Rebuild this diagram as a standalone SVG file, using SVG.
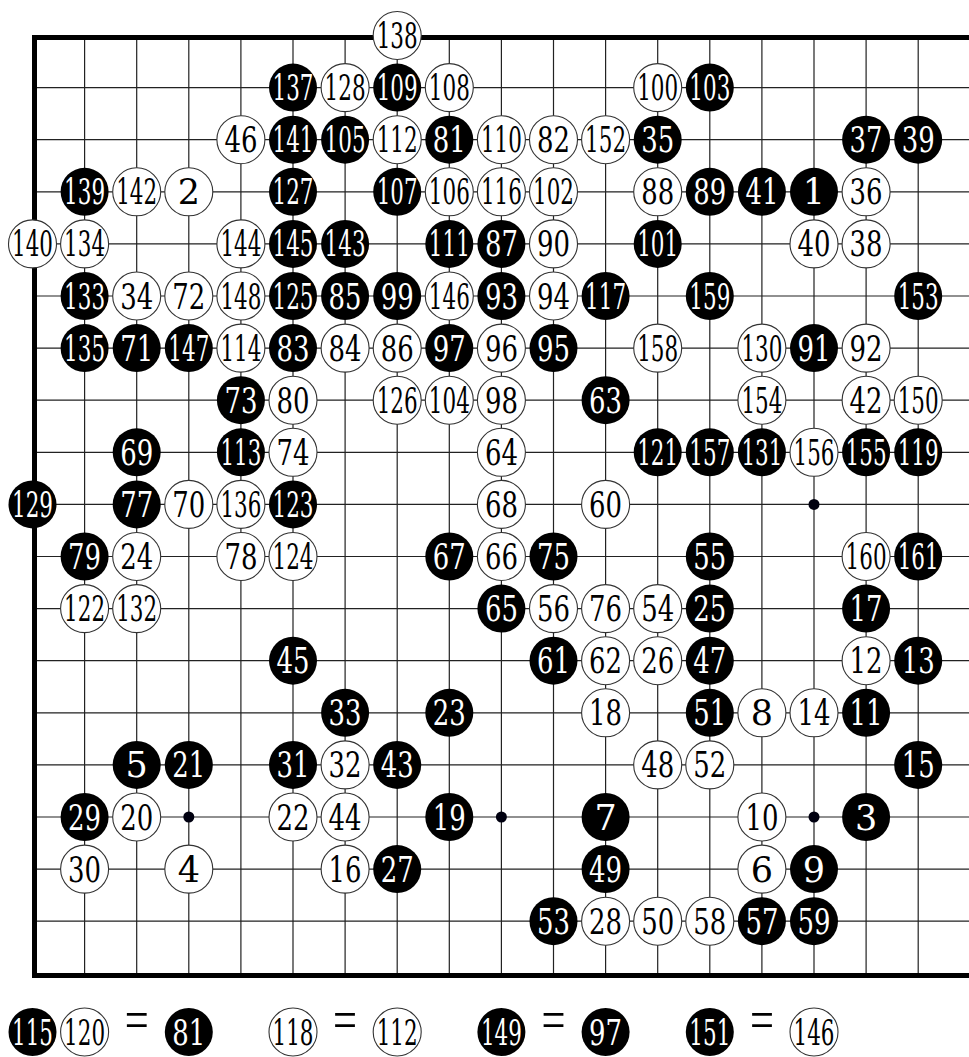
<svg xmlns="http://www.w3.org/2000/svg" width="969" height="1057" viewBox="0 0 969 1057">
<style>
.grid{fill:none;stroke:#222;stroke-width:1.2}
.edge{fill:none;stroke:#000;stroke-width:5;stroke-linejoin:miter}
.star{fill:#000010}
.b circle{fill:#000}
.w circle{fill:#fff;stroke:#333;stroke-width:1.1}
text{font-family:"DejaVu Serif","Liberation Serif",serif;font-size:35px;text-anchor:middle}
.b text{fill:#fff}
.w text{fill:#000}
text.eq{fill:#000;font-family:"Liberation Serif",serif;font-size:56px}
</style>
<rect width="969" height="1057" fill="#fff"/>
<g id="board">
<path class="grid" d="M84.6 37.5V975M136.7 37.5V975M188.8 37.5V975M240.9 37.5V975M293 37.5V975M345.1 37.5V975M397.2 37.5V975M449.3 37.5V975M501.4 37.5V975M553.5 37.5V975M605.6 37.5V975M657.7 37.5V975M709.8 37.5V975M761.9 37.5V975M814 37.5V975M866.1 37.5V975M918.2 37.5V975M34.5 87.6H969M34.5 139.7H969M34.5 191.8H969M34.5 243.9H969M34.5 296H969M34.5 348.1H969M34.5 400.2H969M34.5 452.3H969M34.5 504.4H969M34.5 556.5H969M34.5 608.6H969M34.5 660.7H969M34.5 712.8H969M34.5 764.9H969M34.5 817H969M34.5 869.1H969M34.5 921.2H969"/>
<path class="edge" d="M969 37.5H34.5V975.5H969"/>
<g class="star"><circle cx="188.8" cy="817" r="5.5"/><circle cx="501.4" cy="817" r="5.5"/><circle cx="814" cy="817" r="5.5"/><circle cx="814" cy="504.4" r="5.5"/></g>
</g>
<g id="connectors"></g>
<g id="stones">
<g id="m138" class="w"><circle cx="397.2" cy="35.5" r="24"/><text x="397.2" y="48" textLength="41" lengthAdjust="spacingAndGlyphs">138</text></g>
<g id="m137" class="b"><circle cx="293" cy="87.6" r="24"/><text x="293" y="100.1" textLength="41" lengthAdjust="spacingAndGlyphs">137</text></g>
<g id="m128" class="w"><circle cx="345.1" cy="87.6" r="24"/><text x="345.1" y="100.1" textLength="41" lengthAdjust="spacingAndGlyphs">128</text></g>
<g id="m109" class="b"><circle cx="397.2" cy="87.6" r="24"/><text x="397.2" y="100.1" textLength="41" lengthAdjust="spacingAndGlyphs">109</text></g>
<g id="m108" class="w"><circle cx="449.3" cy="87.6" r="24"/><text x="449.3" y="100.1" textLength="41" lengthAdjust="spacingAndGlyphs">108</text></g>
<g id="m100" class="w"><circle cx="657.7" cy="87.6" r="24"/><text x="657.7" y="100.1" textLength="41" lengthAdjust="spacingAndGlyphs">100</text></g>
<g id="m103" class="b"><circle cx="709.8" cy="87.6" r="24"/><text x="709.8" y="100.1" textLength="41" lengthAdjust="spacingAndGlyphs">103</text></g>

<g id="m46" class="w"><circle cx="240.9" cy="139.7" r="24"/><text x="240.9" y="152.2" textLength="33" lengthAdjust="spacingAndGlyphs">46</text></g>
<g id="m141" class="b"><circle cx="293" cy="139.7" r="24"/><text x="293" y="152.2" textLength="41" lengthAdjust="spacingAndGlyphs">141</text></g>
<g id="m105" class="b"><circle cx="345.1" cy="139.7" r="24"/><text x="345.1" y="152.2" textLength="41" lengthAdjust="spacingAndGlyphs">105</text></g>
<g id="m112" class="w"><circle cx="397.2" cy="139.7" r="24"/><text x="397.2" y="152.2" textLength="41" lengthAdjust="spacingAndGlyphs">112</text></g>
<g id="m81" class="b"><circle cx="449.3" cy="139.7" r="24"/><text x="449.3" y="152.2" textLength="33" lengthAdjust="spacingAndGlyphs">81</text></g>
<g id="m110" class="w"><circle cx="501.4" cy="139.7" r="24"/><text x="501.4" y="152.2" textLength="41" lengthAdjust="spacingAndGlyphs">110</text></g>
<g id="m82" class="w"><circle cx="553.5" cy="139.7" r="24"/><text x="553.5" y="152.2" textLength="33" lengthAdjust="spacingAndGlyphs">82</text></g>
<g id="m152" class="w"><circle cx="605.6" cy="139.7" r="24"/><text x="605.6" y="152.2" textLength="41" lengthAdjust="spacingAndGlyphs">152</text></g>
<g id="m35" class="b"><circle cx="657.7" cy="139.7" r="24"/><text x="657.7" y="152.2" textLength="33" lengthAdjust="spacingAndGlyphs">35</text></g>
<g id="m37" class="b"><circle cx="866.1" cy="139.7" r="24"/><text x="866.1" y="152.2" textLength="33" lengthAdjust="spacingAndGlyphs">37</text></g>
<g id="m39" class="b"><circle cx="918.2" cy="139.7" r="24"/><text x="918.2" y="152.2" textLength="33" lengthAdjust="spacingAndGlyphs">39</text></g>

<g id="m139" class="b"><circle cx="84.6" cy="191.8" r="24"/><text x="84.6" y="204.3" textLength="41" lengthAdjust="spacingAndGlyphs">139</text></g>
<g id="m142" class="w"><circle cx="136.7" cy="191.8" r="24"/><text x="136.7" y="204.3" textLength="41" lengthAdjust="spacingAndGlyphs">142</text></g>
<g id="m2" class="w"><circle cx="188.8" cy="191.8" r="24"/><text x="188.8" y="204.3">2</text></g>
<g id="m127" class="b"><circle cx="293" cy="191.8" r="24"/><text x="293" y="204.3" textLength="41" lengthAdjust="spacingAndGlyphs">127</text></g>
<g id="m107" class="b"><circle cx="397.2" cy="191.8" r="24"/><text x="397.2" y="204.3" textLength="41" lengthAdjust="spacingAndGlyphs">107</text></g>
<g id="m106" class="w"><circle cx="449.3" cy="191.8" r="24"/><text x="449.3" y="204.3" textLength="41" lengthAdjust="spacingAndGlyphs">106</text></g>
<g id="m116" class="w"><circle cx="501.4" cy="191.8" r="24"/><text x="501.4" y="204.3" textLength="41" lengthAdjust="spacingAndGlyphs">116</text></g>
<g id="m102" class="w"><circle cx="553.5" cy="191.8" r="24"/><text x="553.5" y="204.3" textLength="41" lengthAdjust="spacingAndGlyphs">102</text></g>
<g id="m88" class="w"><circle cx="657.7" cy="191.8" r="24"/><text x="657.7" y="204.3" textLength="33" lengthAdjust="spacingAndGlyphs">88</text></g>
<g id="m89" class="b"><circle cx="709.8" cy="191.8" r="24"/><text x="709.8" y="204.3" textLength="33" lengthAdjust="spacingAndGlyphs">89</text></g>
<g id="m41" class="b"><circle cx="761.9" cy="191.8" r="24"/><text x="761.9" y="204.3" textLength="33" lengthAdjust="spacingAndGlyphs">41</text></g>
<g id="m1" class="b"><circle cx="814" cy="191.8" r="24"/><text x="814" y="204.3">1</text></g>
<g id="m36" class="w"><circle cx="866.1" cy="191.8" r="24"/><text x="866.1" y="204.3" textLength="33" lengthAdjust="spacingAndGlyphs">36</text></g>

<g id="m140" class="w"><circle cx="32.5" cy="243.9" r="24"/><text x="32.5" y="256.4" textLength="41" lengthAdjust="spacingAndGlyphs">140</text></g>
<g id="m134" class="w"><circle cx="84.6" cy="243.9" r="24"/><text x="84.6" y="256.4" textLength="41" lengthAdjust="spacingAndGlyphs">134</text></g>
<g id="m144" class="w"><circle cx="240.9" cy="243.9" r="24"/><text x="240.9" y="256.4" textLength="41" lengthAdjust="spacingAndGlyphs">144</text></g>
<g id="m145" class="b"><circle cx="293" cy="243.9" r="24"/><text x="293" y="256.4" textLength="41" lengthAdjust="spacingAndGlyphs">145</text></g>
<g id="m143" class="b"><circle cx="345.1" cy="243.9" r="24"/><text x="345.1" y="256.4" textLength="41" lengthAdjust="spacingAndGlyphs">143</text></g>
<g id="m111" class="b"><circle cx="449.3" cy="243.9" r="24"/><text x="449.3" y="256.4" textLength="41" lengthAdjust="spacingAndGlyphs">111</text></g>
<g id="m87" class="b"><circle cx="501.4" cy="243.9" r="24"/><text x="501.4" y="256.4" textLength="33" lengthAdjust="spacingAndGlyphs">87</text></g>
<g id="m90" class="w"><circle cx="553.5" cy="243.9" r="24"/><text x="553.5" y="256.4" textLength="33" lengthAdjust="spacingAndGlyphs">90</text></g>
<g id="m101" class="b"><circle cx="657.7" cy="243.9" r="24"/><text x="657.7" y="256.4" textLength="41" lengthAdjust="spacingAndGlyphs">101</text></g>
<g id="m40" class="w"><circle cx="814" cy="243.9" r="24"/><text x="814" y="256.4" textLength="33" lengthAdjust="spacingAndGlyphs">40</text></g>
<g id="m38" class="w"><circle cx="866.1" cy="243.9" r="24"/><text x="866.1" y="256.4" textLength="33" lengthAdjust="spacingAndGlyphs">38</text></g>

<g id="m133" class="b"><circle cx="84.6" cy="296" r="24"/><text x="84.6" y="308.5" textLength="41" lengthAdjust="spacingAndGlyphs">133</text></g>
<g id="m34" class="w"><circle cx="136.7" cy="296" r="24"/><text x="136.7" y="308.5" textLength="33" lengthAdjust="spacingAndGlyphs">34</text></g>
<g id="m72" class="w"><circle cx="188.8" cy="296" r="24"/><text x="188.8" y="308.5" textLength="33" lengthAdjust="spacingAndGlyphs">72</text></g>
<g id="m148" class="w"><circle cx="240.9" cy="296" r="24"/><text x="240.9" y="308.5" textLength="41" lengthAdjust="spacingAndGlyphs">148</text></g>
<g id="m125" class="b"><circle cx="293" cy="296" r="24"/><text x="293" y="308.5" textLength="41" lengthAdjust="spacingAndGlyphs">125</text></g>
<g id="m85" class="b"><circle cx="345.1" cy="296" r="24"/><text x="345.1" y="308.5" textLength="33" lengthAdjust="spacingAndGlyphs">85</text></g>
<g id="m99" class="b"><circle cx="397.2" cy="296" r="24"/><text x="397.2" y="308.5" textLength="33" lengthAdjust="spacingAndGlyphs">99</text></g>
<g id="m146" class="w"><circle cx="449.3" cy="296" r="24"/><text x="449.3" y="308.5" textLength="41" lengthAdjust="spacingAndGlyphs">146</text></g>
<g id="m93" class="b"><circle cx="501.4" cy="296" r="24"/><text x="501.4" y="308.5" textLength="33" lengthAdjust="spacingAndGlyphs">93</text></g>
<g id="m94" class="w"><circle cx="553.5" cy="296" r="24"/><text x="553.5" y="308.5" textLength="33" lengthAdjust="spacingAndGlyphs">94</text></g>
<g id="m117" class="b"><circle cx="605.6" cy="296" r="24"/><text x="605.6" y="308.5" textLength="41" lengthAdjust="spacingAndGlyphs">117</text></g>
<g id="m159" class="b"><circle cx="709.8" cy="296" r="24"/><text x="709.8" y="308.5" textLength="41" lengthAdjust="spacingAndGlyphs">159</text></g>
<g id="m153" class="b"><circle cx="918.2" cy="296" r="24"/><text x="918.2" y="308.5" textLength="41" lengthAdjust="spacingAndGlyphs">153</text></g>

<g id="m135" class="b"><circle cx="84.6" cy="348.1" r="24"/><text x="84.6" y="360.6" textLength="41" lengthAdjust="spacingAndGlyphs">135</text></g>
<g id="m71" class="b"><circle cx="136.7" cy="348.1" r="24"/><text x="136.7" y="360.6" textLength="33" lengthAdjust="spacingAndGlyphs">71</text></g>
<g id="m147" class="b"><circle cx="188.8" cy="348.1" r="24"/><text x="188.8" y="360.6" textLength="41" lengthAdjust="spacingAndGlyphs">147</text></g>
<g id="m114" class="w"><circle cx="240.9" cy="348.1" r="24"/><text x="240.9" y="360.6" textLength="41" lengthAdjust="spacingAndGlyphs">114</text></g>
<g id="m83" class="b"><circle cx="293" cy="348.1" r="24"/><text x="293" y="360.6" textLength="33" lengthAdjust="spacingAndGlyphs">83</text></g>
<g id="m84" class="w"><circle cx="345.1" cy="348.1" r="24"/><text x="345.1" y="360.6" textLength="33" lengthAdjust="spacingAndGlyphs">84</text></g>
<g id="m86" class="w"><circle cx="397.2" cy="348.1" r="24"/><text x="397.2" y="360.6" textLength="33" lengthAdjust="spacingAndGlyphs">86</text></g>
<g id="m97" class="b"><circle cx="449.3" cy="348.1" r="24"/><text x="449.3" y="360.6" textLength="33" lengthAdjust="spacingAndGlyphs">97</text></g>
<g id="m96" class="w"><circle cx="501.4" cy="348.1" r="24"/><text x="501.4" y="360.6" textLength="33" lengthAdjust="spacingAndGlyphs">96</text></g>
<g id="m95" class="b"><circle cx="553.5" cy="348.1" r="24"/><text x="553.5" y="360.6" textLength="33" lengthAdjust="spacingAndGlyphs">95</text></g>
<g id="m158" class="w"><circle cx="657.7" cy="348.1" r="24"/><text x="657.7" y="360.6" textLength="41" lengthAdjust="spacingAndGlyphs">158</text></g>
<g id="m130" class="w"><circle cx="761.9" cy="348.1" r="24"/><text x="761.9" y="360.6" textLength="41" lengthAdjust="spacingAndGlyphs">130</text></g>
<g id="m91" class="b"><circle cx="814" cy="348.1" r="24"/><text x="814" y="360.6" textLength="33" lengthAdjust="spacingAndGlyphs">91</text></g>
<g id="m92" class="w"><circle cx="866.1" cy="348.1" r="24"/><text x="866.1" y="360.6" textLength="33" lengthAdjust="spacingAndGlyphs">92</text></g>

<g id="m73" class="b"><circle cx="240.9" cy="400.2" r="24"/><text x="240.9" y="412.7" textLength="33" lengthAdjust="spacingAndGlyphs">73</text></g>
<g id="m80" class="w"><circle cx="293" cy="400.2" r="24"/><text x="293" y="412.7" textLength="33" lengthAdjust="spacingAndGlyphs">80</text></g>
<g id="m126" class="w"><circle cx="397.2" cy="400.2" r="24"/><text x="397.2" y="412.7" textLength="41" lengthAdjust="spacingAndGlyphs">126</text></g>
<g id="m104" class="w"><circle cx="449.3" cy="400.2" r="24"/><text x="449.3" y="412.7" textLength="41" lengthAdjust="spacingAndGlyphs">104</text></g>
<g id="m98" class="w"><circle cx="501.4" cy="400.2" r="24"/><text x="501.4" y="412.7" textLength="33" lengthAdjust="spacingAndGlyphs">98</text></g>
<g id="m63" class="b"><circle cx="605.6" cy="400.2" r="24"/><text x="605.6" y="412.7" textLength="33" lengthAdjust="spacingAndGlyphs">63</text></g>
<g id="m154" class="w"><circle cx="761.9" cy="400.2" r="24"/><text x="761.9" y="412.7" textLength="41" lengthAdjust="spacingAndGlyphs">154</text></g>
<g id="m42" class="w"><circle cx="866.1" cy="400.2" r="24"/><text x="866.1" y="412.7" textLength="33" lengthAdjust="spacingAndGlyphs">42</text></g>
<g id="m150" class="w"><circle cx="918.2" cy="400.2" r="24"/><text x="918.2" y="412.7" textLength="41" lengthAdjust="spacingAndGlyphs">150</text></g>

<g id="m69" class="b"><circle cx="136.7" cy="452.3" r="24"/><text x="136.7" y="464.8" textLength="33" lengthAdjust="spacingAndGlyphs">69</text></g>
<g id="m113" class="b"><circle cx="240.9" cy="452.3" r="24"/><text x="240.9" y="464.8" textLength="41" lengthAdjust="spacingAndGlyphs">113</text></g>
<g id="m74" class="w"><circle cx="293" cy="452.3" r="24"/><text x="293" y="464.8" textLength="33" lengthAdjust="spacingAndGlyphs">74</text></g>
<g id="m64" class="w"><circle cx="501.4" cy="452.3" r="24"/><text x="501.4" y="464.8" textLength="33" lengthAdjust="spacingAndGlyphs">64</text></g>
<g id="m121" class="b"><circle cx="657.7" cy="452.3" r="24"/><text x="657.7" y="464.8" textLength="41" lengthAdjust="spacingAndGlyphs">121</text></g>
<g id="m157" class="b"><circle cx="709.8" cy="452.3" r="24"/><text x="709.8" y="464.8" textLength="41" lengthAdjust="spacingAndGlyphs">157</text></g>
<g id="m131" class="b"><circle cx="761.9" cy="452.3" r="24"/><text x="761.9" y="464.8" textLength="41" lengthAdjust="spacingAndGlyphs">131</text></g>
<g id="m156" class="w"><circle cx="814" cy="452.3" r="24"/><text x="814" y="464.8" textLength="41" lengthAdjust="spacingAndGlyphs">156</text></g>
<g id="m155" class="b"><circle cx="866.1" cy="452.3" r="24"/><text x="866.1" y="464.8" textLength="41" lengthAdjust="spacingAndGlyphs">155</text></g>
<g id="m119" class="b"><circle cx="918.2" cy="452.3" r="24"/><text x="918.2" y="464.8" textLength="41" lengthAdjust="spacingAndGlyphs">119</text></g>

<g id="m129" class="b"><circle cx="32.5" cy="504.4" r="24"/><text x="32.5" y="516.9" textLength="41" lengthAdjust="spacingAndGlyphs">129</text></g>
<g id="m77" class="b"><circle cx="136.7" cy="504.4" r="24"/><text x="136.7" y="516.9" textLength="33" lengthAdjust="spacingAndGlyphs">77</text></g>
<g id="m70" class="w"><circle cx="188.8" cy="504.4" r="24"/><text x="188.8" y="516.9" textLength="33" lengthAdjust="spacingAndGlyphs">70</text></g>
<g id="m136" class="w"><circle cx="240.9" cy="504.4" r="24"/><text x="240.9" y="516.9" textLength="41" lengthAdjust="spacingAndGlyphs">136</text></g>
<g id="m123" class="b"><circle cx="293" cy="504.4" r="24"/><text x="293" y="516.9" textLength="41" lengthAdjust="spacingAndGlyphs">123</text></g>
<g id="m68" class="w"><circle cx="501.4" cy="504.4" r="24"/><text x="501.4" y="516.9" textLength="33" lengthAdjust="spacingAndGlyphs">68</text></g>
<g id="m60" class="w"><circle cx="605.6" cy="504.4" r="24"/><text x="605.6" y="516.9" textLength="33" lengthAdjust="spacingAndGlyphs">60</text></g>

<g id="m79" class="b"><circle cx="84.6" cy="556.5" r="24"/><text x="84.6" y="569" textLength="33" lengthAdjust="spacingAndGlyphs">79</text></g>
<g id="m24" class="w"><circle cx="136.7" cy="556.5" r="24"/><text x="136.7" y="569" textLength="33" lengthAdjust="spacingAndGlyphs">24</text></g>
<g id="m78" class="w"><circle cx="240.9" cy="556.5" r="24"/><text x="240.9" y="569" textLength="33" lengthAdjust="spacingAndGlyphs">78</text></g>
<g id="m124" class="w"><circle cx="293" cy="556.5" r="24"/><text x="293" y="569" textLength="41" lengthAdjust="spacingAndGlyphs">124</text></g>
<g id="m67" class="b"><circle cx="449.3" cy="556.5" r="24"/><text x="449.3" y="569" textLength="33" lengthAdjust="spacingAndGlyphs">67</text></g>
<g id="m66" class="w"><circle cx="501.4" cy="556.5" r="24"/><text x="501.4" y="569" textLength="33" lengthAdjust="spacingAndGlyphs">66</text></g>
<g id="m75" class="b"><circle cx="553.5" cy="556.5" r="24"/><text x="553.5" y="569" textLength="33" lengthAdjust="spacingAndGlyphs">75</text></g>
<g id="m55" class="b"><circle cx="709.8" cy="556.5" r="24"/><text x="709.8" y="569" textLength="33" lengthAdjust="spacingAndGlyphs">55</text></g>
<g id="m160" class="w"><circle cx="866.1" cy="556.5" r="24"/><text x="866.1" y="569" textLength="41" lengthAdjust="spacingAndGlyphs">160</text></g>
<g id="m161" class="b"><circle cx="918.2" cy="556.5" r="24"/><text x="918.2" y="569" textLength="41" lengthAdjust="spacingAndGlyphs">161</text></g>

<g id="m122" class="w"><circle cx="84.6" cy="608.6" r="24"/><text x="84.6" y="621.1" textLength="41" lengthAdjust="spacingAndGlyphs">122</text></g>
<g id="m132" class="w"><circle cx="136.7" cy="608.6" r="24"/><text x="136.7" y="621.1" textLength="41" lengthAdjust="spacingAndGlyphs">132</text></g>
<g id="m65" class="b"><circle cx="501.4" cy="608.6" r="24"/><text x="501.4" y="621.1" textLength="33" lengthAdjust="spacingAndGlyphs">65</text></g>
<g id="m56" class="w"><circle cx="553.5" cy="608.6" r="24"/><text x="553.5" y="621.1" textLength="33" lengthAdjust="spacingAndGlyphs">56</text></g>
<g id="m76" class="w"><circle cx="605.6" cy="608.6" r="24"/><text x="605.6" y="621.1" textLength="33" lengthAdjust="spacingAndGlyphs">76</text></g>
<g id="m54" class="w"><circle cx="657.7" cy="608.6" r="24"/><text x="657.7" y="621.1" textLength="33" lengthAdjust="spacingAndGlyphs">54</text></g>
<g id="m25" class="b"><circle cx="709.8" cy="608.6" r="24"/><text x="709.8" y="621.1" textLength="33" lengthAdjust="spacingAndGlyphs">25</text></g>
<g id="m17" class="b"><circle cx="866.1" cy="608.6" r="24"/><text x="866.1" y="621.1" textLength="33" lengthAdjust="spacingAndGlyphs">17</text></g>

<g id="m45" class="b"><circle cx="293" cy="660.7" r="24"/><text x="293" y="673.2" textLength="33" lengthAdjust="spacingAndGlyphs">45</text></g>
<g id="m61" class="b"><circle cx="553.5" cy="660.7" r="24"/><text x="553.5" y="673.2" textLength="33" lengthAdjust="spacingAndGlyphs">61</text></g>
<g id="m62" class="w"><circle cx="605.6" cy="660.7" r="24"/><text x="605.6" y="673.2" textLength="33" lengthAdjust="spacingAndGlyphs">62</text></g>
<g id="m26" class="w"><circle cx="657.7" cy="660.7" r="24"/><text x="657.7" y="673.2" textLength="33" lengthAdjust="spacingAndGlyphs">26</text></g>
<g id="m47" class="b"><circle cx="709.8" cy="660.7" r="24"/><text x="709.8" y="673.2" textLength="33" lengthAdjust="spacingAndGlyphs">47</text></g>
<g id="m12" class="w"><circle cx="866.1" cy="660.7" r="24"/><text x="866.1" y="673.2" textLength="33" lengthAdjust="spacingAndGlyphs">12</text></g>
<g id="m13" class="b"><circle cx="918.2" cy="660.7" r="24"/><text x="918.2" y="673.2" textLength="33" lengthAdjust="spacingAndGlyphs">13</text></g>

<g id="m33" class="b"><circle cx="345.1" cy="712.8" r="24"/><text x="345.1" y="725.3" textLength="33" lengthAdjust="spacingAndGlyphs">33</text></g>
<g id="m23" class="b"><circle cx="449.3" cy="712.8" r="24"/><text x="449.3" y="725.3" textLength="33" lengthAdjust="spacingAndGlyphs">23</text></g>
<g id="m18" class="w"><circle cx="605.6" cy="712.8" r="24"/><text x="605.6" y="725.3" textLength="33" lengthAdjust="spacingAndGlyphs">18</text></g>
<g id="m51" class="b"><circle cx="709.8" cy="712.8" r="24"/><text x="709.8" y="725.3" textLength="33" lengthAdjust="spacingAndGlyphs">51</text></g>
<g id="m8" class="w"><circle cx="761.9" cy="712.8" r="24"/><text x="761.9" y="725.3">8</text></g>
<g id="m14" class="w"><circle cx="814" cy="712.8" r="24"/><text x="814" y="725.3" textLength="33" lengthAdjust="spacingAndGlyphs">14</text></g>
<g id="m11" class="b"><circle cx="866.1" cy="712.8" r="24"/><text x="866.1" y="725.3" textLength="33" lengthAdjust="spacingAndGlyphs">11</text></g>

<g id="m5" class="b"><circle cx="136.7" cy="764.9" r="24"/><text x="136.7" y="777.4">5</text></g>
<g id="m21" class="b"><circle cx="188.8" cy="764.9" r="24"/><text x="188.8" y="777.4" textLength="33" lengthAdjust="spacingAndGlyphs">21</text></g>
<g id="m31" class="b"><circle cx="293" cy="764.9" r="24"/><text x="293" y="777.4" textLength="33" lengthAdjust="spacingAndGlyphs">31</text></g>
<g id="m32" class="w"><circle cx="345.1" cy="764.9" r="24"/><text x="345.1" y="777.4" textLength="33" lengthAdjust="spacingAndGlyphs">32</text></g>
<g id="m43" class="b"><circle cx="397.2" cy="764.9" r="24"/><text x="397.2" y="777.4" textLength="33" lengthAdjust="spacingAndGlyphs">43</text></g>
<g id="m48" class="w"><circle cx="657.7" cy="764.9" r="24"/><text x="657.7" y="777.4" textLength="33" lengthAdjust="spacingAndGlyphs">48</text></g>
<g id="m52" class="w"><circle cx="709.8" cy="764.9" r="24"/><text x="709.8" y="777.4" textLength="33" lengthAdjust="spacingAndGlyphs">52</text></g>
<g id="m15" class="b"><circle cx="918.2" cy="764.9" r="24"/><text x="918.2" y="777.4" textLength="33" lengthAdjust="spacingAndGlyphs">15</text></g>

<g id="m29" class="b"><circle cx="84.6" cy="817" r="24"/><text x="84.6" y="829.5" textLength="33" lengthAdjust="spacingAndGlyphs">29</text></g>
<g id="m20" class="w"><circle cx="136.7" cy="817" r="24"/><text x="136.7" y="829.5" textLength="33" lengthAdjust="spacingAndGlyphs">20</text></g>
<g id="m22" class="w"><circle cx="293" cy="817" r="24"/><text x="293" y="829.5" textLength="33" lengthAdjust="spacingAndGlyphs">22</text></g>
<g id="m44" class="w"><circle cx="345.1" cy="817" r="24"/><text x="345.1" y="829.5" textLength="33" lengthAdjust="spacingAndGlyphs">44</text></g>
<g id="m19" class="b"><circle cx="449.3" cy="817" r="24"/><text x="449.3" y="829.5" textLength="33" lengthAdjust="spacingAndGlyphs">19</text></g>
<g id="m7" class="b"><circle cx="605.6" cy="817" r="24"/><text x="605.6" y="829.5">7</text></g>
<g id="m10" class="w"><circle cx="761.9" cy="817" r="24"/><text x="761.9" y="829.5" textLength="33" lengthAdjust="spacingAndGlyphs">10</text></g>
<g id="m3" class="b"><circle cx="866.1" cy="817" r="24"/><text x="866.1" y="829.5">3</text></g>

<g id="m30" class="w"><circle cx="84.6" cy="869.1" r="24"/><text x="84.6" y="881.6" textLength="33" lengthAdjust="spacingAndGlyphs">30</text></g>
<g id="m4" class="w"><circle cx="188.8" cy="869.1" r="24"/><text x="188.8" y="881.6">4</text></g>
<g id="m16" class="w"><circle cx="345.1" cy="869.1" r="24"/><text x="345.1" y="881.6" textLength="33" lengthAdjust="spacingAndGlyphs">16</text></g>
<g id="m27" class="b"><circle cx="397.2" cy="869.1" r="24"/><text x="397.2" y="881.6" textLength="33" lengthAdjust="spacingAndGlyphs">27</text></g>
<g id="m49" class="b"><circle cx="605.6" cy="869.1" r="24"/><text x="605.6" y="881.6" textLength="33" lengthAdjust="spacingAndGlyphs">49</text></g>
<g id="m6" class="w"><circle cx="761.9" cy="869.1" r="24"/><text x="761.9" y="881.6">6</text></g>
<g id="m9" class="b"><circle cx="814" cy="869.1" r="24"/><text x="814" y="881.6">9</text></g>

<g id="m53" class="b"><circle cx="553.5" cy="921.2" r="24"/><text x="553.5" y="933.7" textLength="33" lengthAdjust="spacingAndGlyphs">53</text></g>
<g id="m28" class="w"><circle cx="605.6" cy="921.2" r="24"/><text x="605.6" y="933.7" textLength="33" lengthAdjust="spacingAndGlyphs">28</text></g>
<g id="m50" class="w"><circle cx="657.7" cy="921.2" r="24"/><text x="657.7" y="933.7" textLength="33" lengthAdjust="spacingAndGlyphs">50</text></g>
<g id="m58" class="w"><circle cx="709.8" cy="921.2" r="24"/><text x="709.8" y="933.7" textLength="33" lengthAdjust="spacingAndGlyphs">58</text></g>
<g id="m57" class="b"><circle cx="761.9" cy="921.2" r="24"/><text x="761.9" y="933.7" textLength="33" lengthAdjust="spacingAndGlyphs">57</text></g>
<g id="m59" class="b"><circle cx="814" cy="921.2" r="24"/><text x="814" y="933.7" textLength="33" lengthAdjust="spacingAndGlyphs">59</text></g>
</g>
<g id="legend">
<g id="l115" class="b"><circle cx="32.5" cy="1032" r="24"/><text x="32.5" y="1044.5" textLength="41" lengthAdjust="spacingAndGlyphs">115</text></g>
<g id="l120" class="w"><circle cx="84.6" cy="1032" r="24"/><text x="84.6" y="1044.5" textLength="41" lengthAdjust="spacingAndGlyphs">120</text></g>
<text class="eq" x="136.7" y="1039" textLength="24" lengthAdjust="spacingAndGlyphs">=</text>
<g id="l81" class="b"><circle cx="188.8" cy="1032" r="24"/><text x="188.8" y="1044.5" textLength="33" lengthAdjust="spacingAndGlyphs">81</text></g>
<g id="l118" class="w"><circle cx="293" cy="1032" r="24"/><text x="293" y="1044.5" textLength="41" lengthAdjust="spacingAndGlyphs">118</text></g>
<text class="eq" x="345.1" y="1039" textLength="24" lengthAdjust="spacingAndGlyphs">=</text>
<g id="l112" class="w"><circle cx="397.2" cy="1032" r="24"/><text x="397.2" y="1044.5" textLength="41" lengthAdjust="spacingAndGlyphs">112</text></g>
<g id="l149" class="b"><circle cx="501.4" cy="1032" r="24"/><text x="501.4" y="1044.5" textLength="41" lengthAdjust="spacingAndGlyphs">149</text></g>
<text class="eq" x="553.5" y="1039" textLength="24" lengthAdjust="spacingAndGlyphs">=</text>
<g id="l97" class="b"><circle cx="605.6" cy="1032" r="24"/><text x="605.6" y="1044.5" textLength="33" lengthAdjust="spacingAndGlyphs">97</text></g>
<g id="l151" class="b"><circle cx="709.8" cy="1032" r="24"/><text x="709.8" y="1044.5" textLength="41" lengthAdjust="spacingAndGlyphs">151</text></g>
<text class="eq" x="761.9" y="1039" textLength="24" lengthAdjust="spacingAndGlyphs">=</text>
<g id="l146" class="w"><circle cx="814" cy="1032" r="24"/><text x="814" y="1044.5" textLength="41" lengthAdjust="spacingAndGlyphs">146</text></g>
</g>
</svg>
